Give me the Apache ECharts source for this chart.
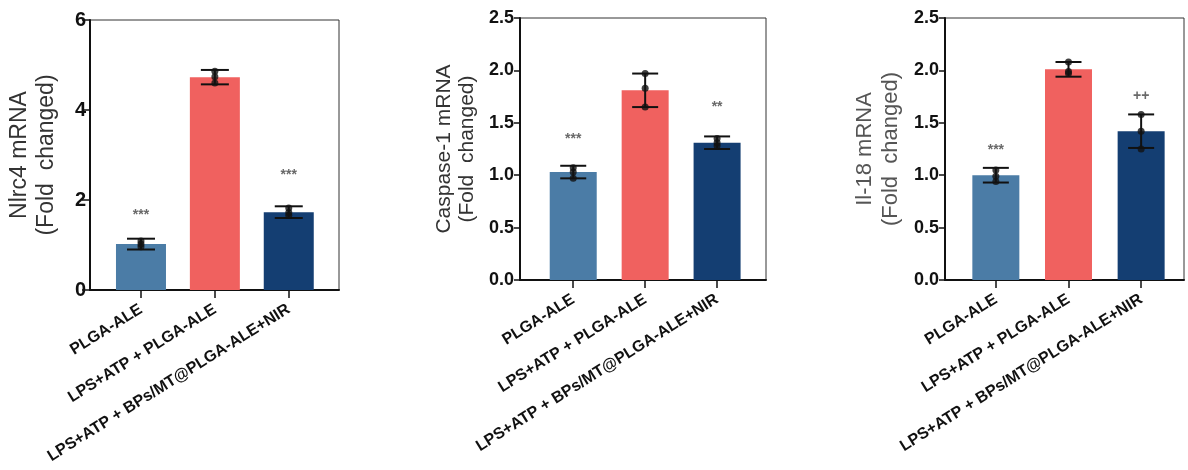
<!DOCTYPE html>
<html>
<head>
<meta charset="utf-8">
<script src="https://cdn.jsdelivr.net/npm/echarts@6/dist/echarts.min.js"></script>
<style>
  html, body { margin: 0; padding: 0; background: #fff; }
  #chart { width: 1188px; height: 470px; }
</style>
</head>
<body>
<div id="chart"></div>
<script>
// Treatment groups (shared by all three panels)
const categories = ['PLGA-ALE', 'LPS+ATP + PLGA-ALE', 'LPS+ATP + BPs/MT@PLGA-ALE+NIR'];
const barColors = ['#4b7ca6', '#f0615f', '#143e72'];

// Nlrc4 mRNA (fold changed)
const nlrc4Mean = [1.02, 4.73, 1.73];
const nlrc4Sd = [0.12, 0.16, 0.13];
const nlrc4Points = [[0.96, 1.02, 1.09], [4.60, 4.74, 4.86], [1.66, 1.72, 1.82]];
const nlrc4Sig = ['***', '', '***'];
const nlrc4SigY = [1.67, 0, 2.56];
const nlrc4Ticks = { min: 0, max: 6, interval: 2 };

// Caspase-1 mRNA (fold changed)
const caspMean = [1.03, 1.81, 1.31];
const caspSd = [0.06, 0.16, 0.06];
const caspPoints = [[0.97, 1.03, 1.07], [1.65, 1.83, 1.97], [1.28, 1.31, 1.35]];
const caspSig = ['***', '', '**'];
const caspSigY = [1.34, 0, 1.65];
const caspTicks = { min: 0, max: 2.5, interval: 0.5 };

// Il-18 mRNA (fold changed)
const il18Mean = [1.00, 2.01, 1.42];
const il18Sd = [0.07, 0.07, 0.16];
const il18Points = [[0.94, 0.99, 1.05], [1.97, 1.99, 2.08], [1.25, 1.42, 1.58]];
const il18Sig = ['***', '', '++'];
const il18SigY = [1.24, 0, 1.75];
const il18Ticks = { min: 0, max: 2.5, interval: 0.5 };

const FONT = '"Liberation Sans", Arial, sans-serif';

const panels = [
  { name: 'Nlrc4 mRNA\n(Fold  changed)', mean: nlrc4Mean, sd: nlrc4Sd, pts: nlrc4Points,
    sig: nlrc4Sig, sigY: nlrc4SigY, ticks: nlrc4Ticks, dec: 0,
    grid: { left: 90, top: 20, width: 249, height: 270 }, xr: [-0.69, 2.68],
    barW: 50, cap: 28, tickFont: 20, tickLen: 8, labelMargin: 4,
    nameFont: 23, nameLH: 27, nameGap: 30, nameColor: '#333' },
  { name: 'Caspase-1 mRNA\n(Fold  changed)', mean: caspMean, sd: caspSd, pts: caspPoints,
    sig: caspSig, sigY: caspSigY, ticks: caspTicks, dec: 1,
    grid: { left: 520, top: 18, width: 246, height: 262 }, xr: [-0.74, 2.68],
    barW: 47, cap: 26, tickFont: 18, tickLen: 6, labelMargin: 6,
    nameFont: 21, nameLH: 23, nameGap: 41, nameColor: '#333' },
  { name: 'Il-18 mRNA\n(Fold  changed)', mean: il18Mean, sd: il18Sd, pts: il18Points,
    sig: il18Sig, sigY: il18SigY, ticks: il18Ticks, dec: 1,
    grid: { left: 945, top: 18, width: 239, height: 262 }, xr: [-0.70, 2.59],
    barW: 47, cap: 26, tickFont: 18, tickLen: 6, labelMargin: 6,
    nameFont: 22, nameLH: 26, nameGap: 41, nameColor: '#555' }
];

const grid = [], xAxis = [], yAxis = [], series = [];

panels.forEach((p, k) => {
  grid.push(Object.assign({ show: true, borderColor: '#333', borderWidth: 1, backgroundColor: '#fff' }, p.grid));

  xAxis.push({
    type: 'value', gridIndex: k, min: p.xr[0], max: p.xr[1],
    splitLine: { show: false },
    axisLine: { show: true, onZero: false, lineStyle: { color: '#111', width: 2 } },
    axisTick: { show: true, length: 8, lineStyle: { color: '#111', width: 1.5 }, customValues: [0, 1, 2] },
    axisLabel: {
      customValues: [0, 1, 2], rotate: 32, margin: 18,
      fontFamily: FONT, fontWeight: 'bold', fontSize: 16, color: '#111',
      formatter: v => categories[Math.round(v)]
    }
  });

  yAxis.push({
    type: 'value', gridIndex: k, min: p.ticks.min, max: p.ticks.max, interval: p.ticks.interval,
    name: p.name, nameLocation: 'middle', nameRotate: 90, nameGap: p.nameGap,
    nameTextStyle: { fontFamily: FONT, fontSize: p.nameFont, color: p.nameColor, lineHeight: p.nameLH },
    splitLine: { show: false },
    axisLine: { show: true, onZero: false, lineStyle: { color: '#111', width: 2 } },
    axisTick: { show: true, length: p.tickLen, lineStyle: { color: '#111', width: 1.5 } },
    axisLabel: {
      margin: p.labelMargin, fontFamily: FONT, fontWeight: 'bold', fontSize: p.tickFont, color: '#111',
      formatter: v => v.toFixed(p.dec)
    }
  });

  // Mean bars
  series.push({
    type: 'bar', xAxisIndex: k, yAxisIndex: k, barWidth: p.barW,
    data: p.mean.map((m, i) => ({ value: [i, m], itemStyle: { color: barColors[i] } })),
    z: 2
  });

  // Error bars (mean ± SD) with caps
  series.push({
    type: 'custom', xAxisIndex: k, yAxisIndex: k, z: 4,
    data: p.mean.map((m, i) => [i, m, p.sd[i]]),
    encode: { x: 0, y: 1 },
    renderItem: (params, api) => {
      const x = api.value(0), m = api.value(1), e = api.value(2);
      const top = api.coord([x, m + e]);
      const bot = api.coord([x, m - e]);
      const h = p.cap / 2;
      const st = { stroke: '#111', lineWidth: 2 };
      return {
        type: 'group',
        children: [
          { type: 'line', shape: { x1: top[0], y1: top[1], x2: bot[0], y2: bot[1] }, style: st },
          { type: 'line', shape: { x1: top[0] - h, y1: top[1], x2: top[0] + h, y2: top[1] }, style: st },
          { type: 'line', shape: { x1: bot[0] - h, y1: bot[1], x2: bot[0] + h, y2: bot[1] }, style: st }
        ]
      };
    }
  });

  // Individual replicate points
  const dots = [];
  p.pts.forEach((arr, i) => arr.forEach(v => dots.push([i, v])));
  series.push({
    type: 'scatter', xAxisIndex: k, yAxisIndex: k, z: 5,
    symbol: 'circle', symbolSize: 7, itemStyle: { color: '#111' },
    data: dots
  });

  // Significance marks
  series.push({
    type: 'scatter', xAxisIndex: k, yAxisIndex: k, z: 6, symbolSize: 1,
    itemStyle: { color: 'rgba(0,0,0,0)' },
    data: p.sig.map((s, i) => ({ value: [i, p.sigY[i]], name: s })).filter(d => d.name),
    label: {
      show: true, position: 'inside', formatter: d => d.name,
      fontFamily: FONT, fontSize: 14, fontWeight: 'bold', color: '#444'
    }
  });
});

const chart = echarts.init(document.getElementById('chart'), null, { renderer: 'canvas' });
chart.setOption({ animation: false, backgroundColor: '#fff', grid, xAxis, yAxis, series });
</script>
</body>
</html>
